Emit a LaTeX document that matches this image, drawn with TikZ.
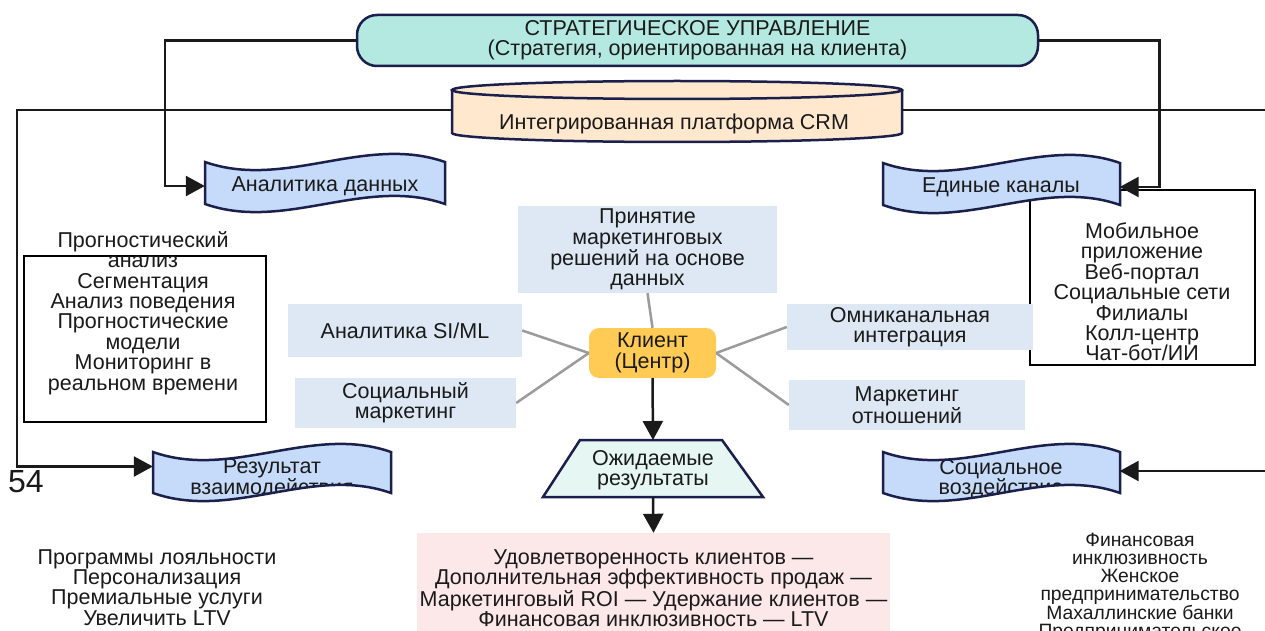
\documentclass[tikz,border=0pt]{standalone}
\usepackage{fontspec}
\setmainfont{Liberation Sans}
\usetikzlibrary{arrows.meta}
\definecolor{ink}{HTML}{1A1A1A}
\definecolor{navy}{HTML}{1B1F4B}
\definecolor{stratfill}{HTML}{B3E9E0}
\definecolor{crmfill}{HTML}{FFE8CE}
\definecolor{tapefill}{HTML}{C6DBF9}
\definecolor{bluebox}{HTML}{DDE8F4}
\definecolor{klfill}{HTML}{FFCB55}
\definecolor{trapfill}{HTML}{E6F7F3}
\definecolor{pinkfill}{HTML}{FDE8E9}
\definecolor{grayline}{HTML}{9B9B9B}
\newcommand\tapepath[4]{(#1,#2) .. controls ({#1+(#3-#1)/3},{#2+28}) and ({#1+2*(#3-#1)/3},{#2-28}) .. (#3,#2) -- (#3,#4) .. controls ({#1+2*(#3-#1)/3},{#4-28}) and ({#1+(#3-#1)/3},{#4+28}) .. (#1,#4) -- cycle}
\begin{document}
\begin{tikzpicture}[x=1pt,y=-1pt,
  txt/.style={align=center,inner sep=0pt,text=ink,font=\fontsize{21.5}{20.4}\selectfont},
  smalltxt/.style={align=center,inner sep=0pt,text=ink,font=\fontsize{19.3}{18}\selectfont},
  bluenode/.style={txt,fill=bluebox},
  outl/.style={draw=navy,line width=2.5pt},
  thinbox/.style={draw=black,line width=1.2pt},
  conn/.style={draw=ink,line width=2.5pt},
  arr/.style={conn,-{Triangle[length=19pt,width=20pt]}},
  gline/.style={draw=grayline,line width=2.5pt}]
\useasboundingbox (0,0) rectangle (1265,631);
\fill[white] (0,0) rectangle (1265,631);

% ---- coordinates for connector bends
\coordinate (lc) at (17,466.5);
\coordinate (rc) at (1280,471);

% ---- left / right list boxes (frames)
\path[thinbox,fill=white] (24,256) rectangle (266,422);
\path[thinbox,fill=white] (1030,190) rectangle (1255,365);

% ---- strategic management
\node[txt,outl,fill=stratfill,rounded corners=20pt,minimum width=681,minimum height=51] (st) at (697.5,40.5)
  {СТРАТЕГИЧЕСКОЕ УПРАВЛЕНИЕ\\(Стратегия, ориентированная на клиента)};

% ---- CRM cylinder
\path[fill=crmfill] (452,90) -- (452,133) .. controls (452,138) and (553,142) .. (677,142) .. controls (801,142) and (902,138) .. (902,133) -- (902,90) -- cycle;
\draw[outl] (452,90) -- (452,133) .. controls (452,138) and (553,142) .. (677,142) .. controls (801,142) and (902,138) .. (902,133) -- (902,90);
\draw[outl,fill=crmfill] (677,90) ellipse (225 and 9);
\node[inner sep=0pt,minimum width=450,minimum height=1] (crm) at (677,110) {};
\node[txt] (crmtxt) at (674,124) {Интегрированная платформа CRM};

% ---- tapes
\path[fill=tapefill] \tapepath{205}{162}{445}{204};
\draw[outl] \tapepath{205}{162}{445}{204};
\node[txt,minimum width=240,minimum height=40] (ad) at (325,186) {Аналитика данных};

\path[fill=tapefill] \tapepath{883}{163}{1120}{205};
\draw[outl] \tapepath{883}{163}{1120}{205};
\node[txt,minimum width=237,minimum height=40] (ec) at (1001,187) {Единые каналы};

\path[fill=tapefill] \tapepath{153}{452}{391}{493};
\begin{scope}
  \clip \tapepath{153}{452}{391}{493};
  \node[txt,minimum width=238] (ri) at (272,479) {Результат\\взаимодействия};
\end{scope}
\draw[outl] \tapepath{153}{452}{391}{493};

\path[fill=tapefill] \tapepath{883}{452}{1120}{493};
\begin{scope}
  \clip \tapepath{883}{452}{1120}{493};
  \node[txt,minimum width=237] (so) at (1001,479) {Социальное\\воздействие};
\end{scope}
\draw[outl] \tapepath{883}{452}{1120}{493};

% ---- black connectors
\draw[arr] (st.west) -| ([xshift=-40pt]ad.west) -- (ad.west);
\draw[arr] (st.east) -| ([xshift=40pt]ec.east) -- (ec.east);
\draw[arr] (crm.west) -| (lc) -- ([yshift=12.5pt]ri.west);
\draw[arr] (crm.east) -| (rc) -- ([yshift=8pt]so.east);

% ---- centre cluster
\node[bluenode,minimum width=259,minimum height=87] (pr) at (647.5,249.5)
  {Принятие\\маркетинговых\\решений на основе\\данных};
\node[bluenode,minimum width=234,minimum height=53] (si) at (405,330.5) {Аналитика SI/ML};
\node[bluenode,minimum width=221,minimum height=50] (sm) at (405.5,403) {Социальный\\маркетинг};
\node[bluenode,minimum width=246,minimum height=46] (om) at (910,327) {Омниканальная\\интеграция};
\node[bluenode,minimum width=236,minimum height=50] (mo) at (907,405) {Маркетинг\\отношений};
\node[txt,fill=klfill,rounded corners=10pt,minimum width=127,minimum height=50] (kl) at (652.5,353) {Клиент\\(Центр)};

\draw[gline] (kl.north) -- (pr.south);
\draw[gline] (kl.west) -- (si.east);
\draw[gline] (kl.west) -- (sm.east);
\draw[gline] (kl.east) -- (om.west);
\draw[gline] (kl.east) -- (mo.west);

% ---- expected results
\path[outl,fill=trapfill] (580,440) -- (722,440) -- (763,497) -- (543,497) -- cycle;
\node[txt,minimum width=220,minimum height=57] (oz) at (653,470) {Ожидаемые\\результаты};
\node[txt,fill=pinkfill,minimum width=473,minimum height=110] (pk) at (653.5,588)
  {Удовлетворенность клиентов —\\Дополнительная эффективность продаж —\\Маркетинговый ROI — Удержание клиентов —\\Финансовая инклюзивность — LTV};
\draw[arr] (kl.south) -- (oz.north |- 0,440);
\draw[arr] (oz.south |- 0,497) -- (pk.north);

% ---- list texts
\node[txt] (lt) at (143,313) {Прогностический\\анализ\\Сегментация\\Анализ поведения\\Прогностические\\модели\\Мониторинг в\\реальном времени};
\node[txt] (rt) at (1142,292) {Мобильное\\приложение\\Веб-портал\\Социальные сети\\Филиалы\\Колл-центр\\Чат-бот/ИИ};
\node[txt] (bl) at (157,587.5) {Программы лояльности\\Персонализация\\Премиальные услуги\\Увеличить LTV};
\node[smalltxt,anchor=north] (br) at (1140,533) {Финансовая\\инклюзивность\\Женское\\предпринимательство\\Махаллинские банки\\Предпринимательское};
\node[txt,font=\fontsize{32}{32}\selectfont,anchor=west] (pg) at (8,482) {54};
\end{tikzpicture}
\end{document}
